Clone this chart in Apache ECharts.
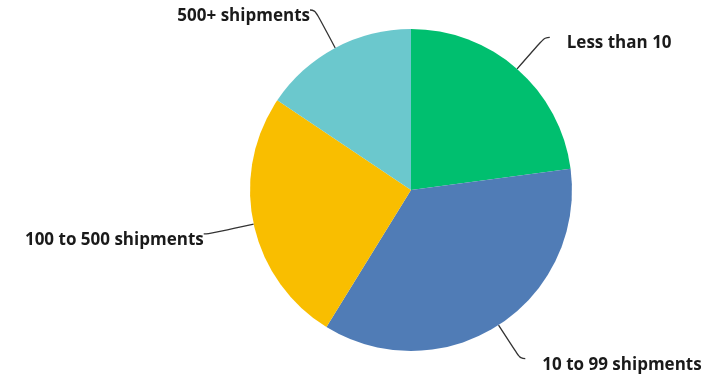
<!DOCTYPE html>
<html>
<head>
<meta charset="utf-8">
<script src="https://cdn.jsdelivr.net/npm/echarts@6/dist/echarts.min.js"></script>
<style>
  html, body { margin: 0; padding: 0; background: #fff; }
  #chart { width: 705px; height: 376px; }
</style>
</head>
<body>
<div id="chart"></div>
<script>
// shipment volume shares (clockwise from 12 o'clock)
var categories = ['Less than 10', '10 to 99 shipments', '100 to 500 shipments', '500+ shipments'];
var shares = [22.9, 35.9, 25.6, 15.6];
var colors = ['#00bf6f', '#507cb6', '#f9be00', '#6bc8cd'];

var chart = echarts.init(document.getElementById('chart'));

// leader line length per slice, so the labels land where the original has them
var lineLen = [42, 40, 46, 43];

var data = categories.map(function (name, i) {
  return {
    name: name,
    value: shares[i],
    itemStyle: { color: colors[i] },
    labelLine: { length: lineLen[i] }
  };
});

var option = {
  backgroundColor: '#fff',
  animation: false,
  series: [{
    type: 'pie',
    center: [411, 190],
    radius: [0, 161],
    startAngle: 90,
    clockwise: true,
    avoidLabelOverlap: false,
    itemStyle: { borderWidth: 0 },
    label: {
      show: true,
      position: 'outside',
      distanceToLabelLine: 0,
      padding: [0, 0, 0, 17],
      // empty first line pushes the text a bit below the end of its line
      formatter: '{g| }\n{t|{b}}',
      rich: {
        g: { height: 12, fontSize: 1 },
        t: {
          color: '#1a1a1a',
          fontFamily: 'Open Sans',
          fontWeight: 'bold',
          fontSize: 17
        }
      }
    },
    labelLine: {
      show: true,
      length: 46,
      length2: 5,
      smooth: 0.5,
      lineStyle: { color: '#333', width: 1.3 }
    },
    emphasis: { disabled: true },
    data: data
  }]
};

chart.setOption(option);
</script>
</body>
</html>
